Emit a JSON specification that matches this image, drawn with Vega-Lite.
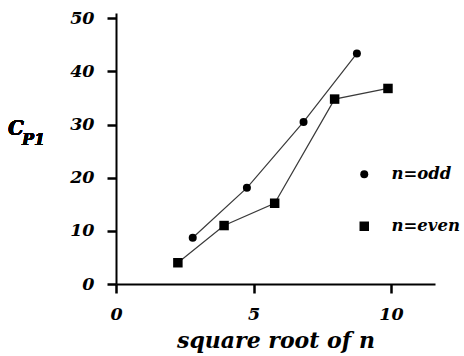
{
  "$schema": "https://vega.github.io/schema/vega-lite/v6.json",
  "width": 319,
  "height": 271,
  "autosize": {"type": "none"},
  "padding": {"left": 116, "top": 13, "right": 29, "bottom": 72},
  "background": "white",
  "config": {
    "view": {"stroke": null},
    "font": "DejaVu Serif",
    "axis": {
      "grid": false,
      "labelFlush": false,
      "domainColor": "black",
      "domainWidth": 2,
      "tickColor": "black",
      "tickWidth": 2.5,
      "tickSize": 9,
      "labelFont": "DejaVu Serif",
      "labelFontStyle": "italic",
      "labelFontWeight": "bold",
      "labelFontSize": 17.5,
      "labelColor": "black",
      "titleFont": "DejaVu Serif",
      "titleFontStyle": "italic",
      "titleFontWeight": "bold",
      "titleColor": "black"
    },
    "legend": {
      "orient": "none",
      "legendX": 240,
      "legendY": 153,
      "labelFont": "DejaVu Serif",
      "labelFontStyle": "italic",
      "labelFontWeight": "bold",
      "labelFontSize": 16.5,
      "labelColor": "black",
      "labelLimit": 200,
      "rowPadding": 35,
      "labelOffset": 19
    }
  },
  "data": {
    "values": [
      {"series": "n=odd", "sqrtn": 2.79, "cp1": 8.7},
      {"series": "n=odd", "sqrtn": 4.76, "cp1": 18.1},
      {"series": "n=odd", "sqrtn": 6.82, "cp1": 30.5},
      {"series": "n=odd", "sqrtn": 8.76, "cp1": 43.4},
      {"series": "n=even", "sqrtn": 2.25, "cp1": 4.0},
      {"series": "n=even", "sqrtn": 3.93, "cp1": 11.0},
      {"series": "n=even", "sqrtn": 5.77, "cp1": 15.2},
      {"series": "n=even", "sqrtn": 7.95, "cp1": 34.8},
      {"series": "n=even", "sqrtn": 9.89, "cp1": 36.8}
    ]
  },
  "layer": [
    {
      "mark": {"type": "line", "color": "#3a3a3a", "strokeWidth": 1.2},
      "encoding": {
        "x": {
          "field": "sqrtn", "type": "quantitative",
          "scale": {"domain": [0, 11.6], "nice": false},
          "axis": {"values": [0, 5, 10], "labelPadding": 12, "labelDx": -2, "title": "square root of n", "titleFontSize": 22, "titlePadding": 8}
        },
        "y": {
          "field": "cp1", "type": "quantitative",
          "scale": {"domain": [0, 51], "nice": false},
          "axis": {"values": [0, 10, 20, 30, 40, 50], "labelPadding": 13, "title": null}
        },
        "detail": {"field": "series"}
      }
    },
    {
      "mark": {"type": "point", "filled": true, "color": "black", "opacity": 1},
      "encoding": {
        "x": {"field": "sqrtn", "type": "quantitative"},
        "y": {"field": "cp1", "type": "quantitative"},
        "shape": {
          "field": "series", "type": "nominal",
          "scale": {"domain": ["n=odd", "n=even"], "range": ["circle", "square"]},
          "legend": {"title": null}
        },
        "size": {
          "field": "series", "type": "nominal",
          "scale": {"domain": ["n=odd", "n=even"], "range": [64, 90]},
          "legend": {"title": null}
        }
      }
    },
    {
      "mark": {"type": "text", "font": "DejaVu Serif", "fontStyle": "italic", "fontWeight": "bold", "fontSize": 20, "align": "left", "baseline": "alphabetic", "color": "black"},
      "encoding": {
        "x": {"datum": -3.93},
        "y": {"datum": 28.04},
        "text": {"value": "C"}
      }
    },
    {
      "mark": {"type": "text", "font": "DejaVu Serif", "fontStyle": "italic", "fontWeight": "bold", "fontSize": 16, "align": "left", "baseline": "alphabetic", "color": "black"},
      "encoding": {
        "x": {"datum": -3.42},
        "y": {"datum": 26.16},
        "text": {"value": "P1"}
      }
    }
  ]
}
